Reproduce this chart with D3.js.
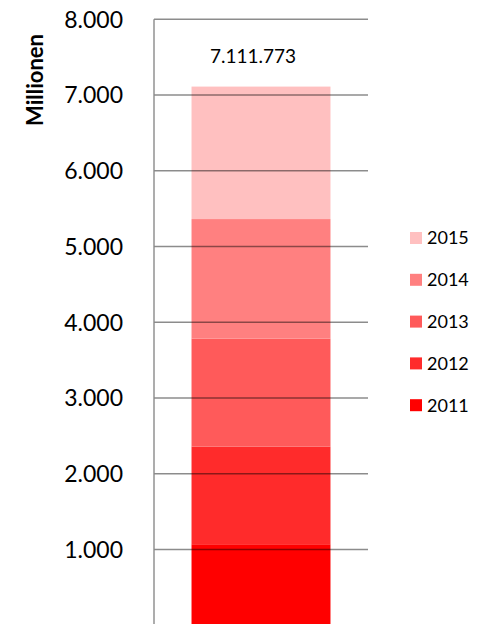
<!DOCTYPE html>
<html><head><meta charset="utf-8">
<script src="https://cdn.jsdelivr.net/npm/d3@7"></script>
<style>body{margin:0;background:#fff}svg{display:block}</style>
</head><body>
<script>
const years = ["2011","2012","2013","2014","2015"];
const values = [1070, 1289, 1425, 1579, 1748.773];
const colors = ["#FF0000","#FF2B2B","#FF5A5A","#FF8080","#FFC0C0"];
const yTicks = [1000,2000,3000,4000,5000,6000,7000,8000];
const totalLabel = "7.111.773";
const axisTitle = "Millionen";

const W = 481, H = 624;
const svg = d3.select("body").append("svg").attr("width", W).attr("height", H);
const y = d3.scaleLinear().domain([0, 8000]).range([625.3, 19.3]);
const x = d3.scaleBand().domain(["total"]).range([154, 368]).paddingInner(0).paddingOuter(0.27);
const fmt = d => d3.format(",")(d).replace(/,/g, ".");
const font = "Lato, 'Open Sans', sans-serif";

// stacked segments
let acc = 0;
const segs = values.map((v, i) => { const s = {y0: acc, y1: acc + v, c: colors[i], k: years[i]}; acc += v; return s; });
svg.selectAll("rect.seg").data(segs).enter().append("rect")
  .attr("x", x("total")).attr("width", x.bandwidth())
  .attr("y", d => y(d.y1)).attr("height", d => y(d.y0) - y(d.y1))
  .attr("fill", d => d.c);

// gridlines
svg.selectAll("line.grid").data(yTicks).enter().append("line")
  .attr("x1", 154).attr("x2", 368).attr("y1", d => y(d)).attr("y2", d => y(d))
  .attr("stroke", "rgba(0,0,0,0.45)").attr("stroke-width", 1.4);

// y axis line
svg.append("line").attr("x1", 154).attr("x2", 154).attr("y1", y(8000)).attr("y2", H)
  .attr("stroke", "#8a8a8a").attr("stroke-width", 1.4);

// tick labels
svg.selectAll("text.tick").data(yTicks).enter().append("text")
  .attr("x", 123).attr("y", d => y(d)).attr("dy", "0.36em")
  .attr("text-anchor", "end").attr("font-family", font).attr("font-size", 23)
  .attr("fill", "#000").text(fmt);

// axis title
svg.append("text").attr("transform", "translate(43,80) rotate(-90)")
  .attr("text-anchor", "middle").attr("font-family", font).attr("font-weight", "bold")
  .attr("font-size", 22).text(axisTitle);

// total label
svg.append("text").attr("x", 253).attr("y", 63).attr("text-anchor", "middle")
  .attr("font-family", font).attr("font-size", 19).text(totalLabel);

// legend
const leg = svg.append("g");
const legItems = years.map((k, i) => ({k, c: colors[i]})).reverse();
const lg = leg.selectAll("g").data(legItems).enter().append("g")
  .attr("transform", (d, i) => `translate(410,${238 + i * 41.8})`);
lg.append("rect").attr("x", 0).attr("y", -6).attr("width", 12).attr("height", 12).attr("fill", d => d.c);
lg.append("text").attr("x", 17).attr("dy", "0.36em").attr("font-family", font)
  .attr("font-size", 18).text(d => d.k);
</script>
</body></html>
